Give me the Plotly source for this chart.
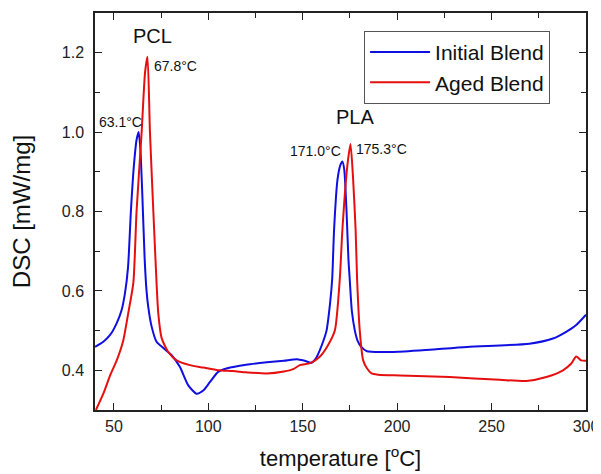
import plotly.graph_objects as go

# Initial Blend (blue)
initial_temp = [40, 44.4, 48, 51.5, 54.1, 55.9, 57.5, 59, 60.5, 62, 63.1, 64, 65, 66.3, 67.3, 68.2,
                70, 72.6, 76.2, 80.6, 85, 89.4, 93.8, 97.3, 100.8, 105.2, 110, 120, 131, 140, 147,
                151, 154.7, 157, 159, 161, 162.6, 164.5, 165.6, 166.6, 168.4, 170, 171, 172, 173.2,
                174.2, 174.9, 176, 177.6, 179, 181, 184, 201, 237, 270, 282.5, 289.5, 294.8, 300]
initial_dsc = [0.459, 0.472, 0.489, 0.519, 0.552, 0.595, 0.66, 0.80, 0.91, 0.98, 1.0, 0.96, 0.85, 0.68, 0.60, 0.56,
               0.51, 0.472, 0.456, 0.438, 0.408, 0.362, 0.341, 0.349, 0.370, 0.396, 0.405, 0.414, 0.42, 0.424, 0.428,
               0.424, 0.419, 0.43, 0.45, 0.475, 0.50, 0.57, 0.63, 0.754, 0.88, 0.918, 0.926, 0.905, 0.80,
               0.68, 0.628, 0.55, 0.50, 0.475, 0.459, 0.448, 0.447, 0.459, 0.467, 0.48, 0.497, 0.514, 0.54]

# Aged Blend (red)
aged_temp = [40.5, 44.4, 48, 51.5, 55, 57.6, 60.3, 62, 64.7, 66.5, 67.8, 69.1, 70.9, 72.6, 73.5, 75.3,
             78.8, 83.2, 90.2, 97.3, 105.2, 113, 120, 131, 140, 145, 148.5, 154, 159, 163, 167, 169.6,
             171, 173.5, 175.3, 176.7, 178, 178.8, 180.2, 182, 184, 186.4, 190, 201.4, 227.8, 254.3,
             268.4, 279, 287.8, 292.2, 294.8, 297.4, 300]
aged_dsc = [0.30, 0.341, 0.387, 0.425, 0.476, 0.544, 0.62, 0.80, 1.0, 1.15, 1.19, 1.0, 0.80, 0.62, 0.544, 0.481,
            0.446, 0.425, 0.413, 0.407, 0.40, 0.398, 0.395, 0.392, 0.397, 0.403, 0.413, 0.418, 0.434, 0.46, 0.50, 0.628,
            0.754, 0.91, 0.97, 0.88, 0.754, 0.628, 0.50, 0.425, 0.405, 0.392, 0.389, 0.387, 0.383, 0.376,
            0.373, 0.383, 0.40, 0.417, 0.435, 0.425, 0.424]

series_names = ["Initial Blend", "Aged Blend"]
series_colors = ["rgb(15,15,225)", "rgb(230,15,15)"]

# Annotations: (text, temp, value, size)
labels = [("PCL", 70.2, 1.243, 20), ("67.8°C", 82.4, 1.167, 14), ("63.1°C", 53.6, 1.025, 14),
          ("PLA", 177.7, 1.039, 20), ("171.0°C", 157.0, 0.952, 14), ("175.3°C", 191.7, 0.957, 14)]

FONT = "Liberation Sans, Arial, sans-serif"

fig = go.Figure()
for t, v, n, c in [(initial_temp, initial_dsc, series_names[0], series_colors[0]),
                   (aged_temp, aged_dsc, series_names[1], series_colors[1])]:
    fig.add_trace(go.Scatter(x=t, y=v, mode="lines", name=n,
                             line=dict(color=c, width=2, shape="spline", smoothing=0.6)))

for txt, x, y, s in labels:
    fig.add_annotation(x=x, y=y, xref="x", yref="y", text=txt, showarrow=False,
                       font=dict(size=s, color="#111", family=FONT))

axis_common = dict(showline=True, linecolor="#222", linewidth=1.5, mirror="ticks",
                   ticks="inside", ticklen=7, tickwidth=1.3, tickcolor="#222",
                   showgrid=False, zeroline=False, automargin=False,
                   tickfont=dict(size=16, color="#222", family=FONT))

fig.update_xaxes(range=[40, 300], tickvals=[50, 100, 150, 200, 250, 300],
                 minor=dict(ticks="inside", ticklen=5, tickwidth=1.2, tickcolor="#222",
                            tickvals=[75, 125, 175, 225, 275]),
                 title=dict(text="temperature [<sup>o</sup>C]", font=dict(size=22, color="#111", family=FONT),
                            standoff=17),
                 ticklabelstandoff=1, **axis_common)
fig.update_yaxes(range=[0.3, 1.3], tickvals=[0.4, 0.6, 0.8, 1.0, 1.2],
                 ticktext=["0.4", "0.6", "0.8", "1.0", "1.2"],
                 minor=dict(ticks="inside", ticklen=5, tickwidth=1.2, tickcolor="#222",
                            tickvals=[0.5, 0.7, 0.9, 1.1]),
                 title=dict(text="DSC [mW/mg]", font=dict(size=24, color="#111", family=FONT),
                            standoff=24),
                 ticklabelstandoff=6, **axis_common)

# page body adds an 8px offset; compensate so the plot area lands at x 95-586, y 13-410
fig.update_layout(
    width=593, height=466,
    margin=dict(l=87, r=15, t=5, b=64, autoexpand=False),
    paper_bgcolor="white", plot_bgcolor="white",
    font=dict(family=FONT),
    legend=dict(x=0.548, y=0.955, xanchor="left", yanchor="top",
                bgcolor="white", bordercolor="#555", borderwidth=1,
                font=dict(size=21, color="#111", family=FONT),
                tracegroupgap=0, itemwidth=60),
    showlegend=True,
)

fig.write_html("out.html")
